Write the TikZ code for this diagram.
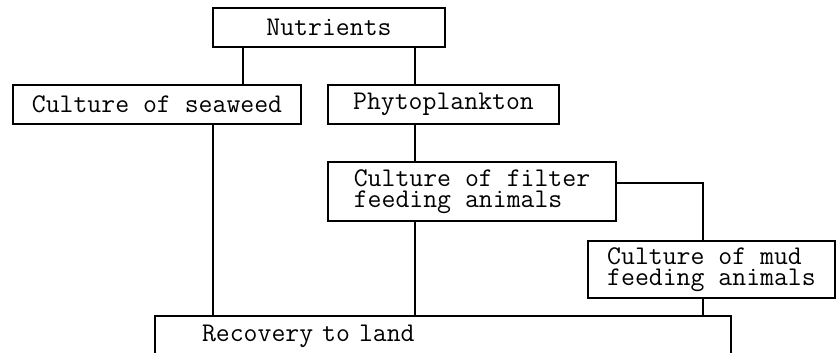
\documentclass[tikz,border=0pt]{standalone}
\usepackage{fontspec}
\usepackage{tikz}
\usetikzlibrary{positioning, calc}

\begin{document}
\begin{tikzpicture}[x=10pt, y=-10pt,
    box/.style={draw, line width=1.1pt, anchor=north west, outer sep=0pt, align=left, inner sep=0pt,
        font=\ttfamily\fontsize{27pt}{21pt}\selectfont},
    lnk/.style={line width=1.4pt}]
    \useasboundingbox (0,0) rectangle (83.6,35.3);
    \node[box, minimum width=232pt, minimum height=39pt] (nutr) at (21.3,0.8) {Nutrients};
    \node[box, minimum width=288pt, minimum height=39pt] (seaweed) at (1.3,8.5) {Culture of seaweed};
    \node[box, minimum width=231pt, minimum height=39pt] (phyto) at (32.8,8.5) {Phytoplankton};
    \node[box, minimum width=288pt, minimum height=59pt] (filter) at (32.8,16.2) {Culture of filter\\feeding animals};
    \node[box, minimum width=247pt, minimum height=57pt] (mud) at (58.8,24.1) {Culture of mud\\feeding animals};
    \node[box, text width=482pt, inner xsep=47pt, inner ysep=9pt, text depth=15pt] (recovery) at (15.5,31.6) {Recovery to land};
    % links
    \draw[lnk] ([xshift=30pt]nutr.south west) -- ([xshift=30pt]nutr.south west |- seaweed.north);
    \draw[lnk] ([xshift=-30pt]nutr.south east) -- ([xshift=-30pt]nutr.south east |- phyto.north);
    \draw[lnk] ([xshift=87pt]phyto.south west) -- ([xshift=87pt]phyto.south west |- filter.north);
    \draw[lnk] ([xshift=87pt]filter.south west) -- ([xshift=87pt]filter.south west |- recovery.north);
    \draw[lnk] ([xshift=200pt]seaweed.south west) -- ([xshift=200pt]seaweed.south west |- recovery.north);
    \draw[lnk] ([yshift=-21pt]filter.north east) -| ([xshift=115pt]mud.north west);
    \draw[lnk] ([xshift=115pt]mud.south west) -- ([xshift=115pt]mud.south west |- recovery.north);
\end{tikzpicture}
\end{document}
